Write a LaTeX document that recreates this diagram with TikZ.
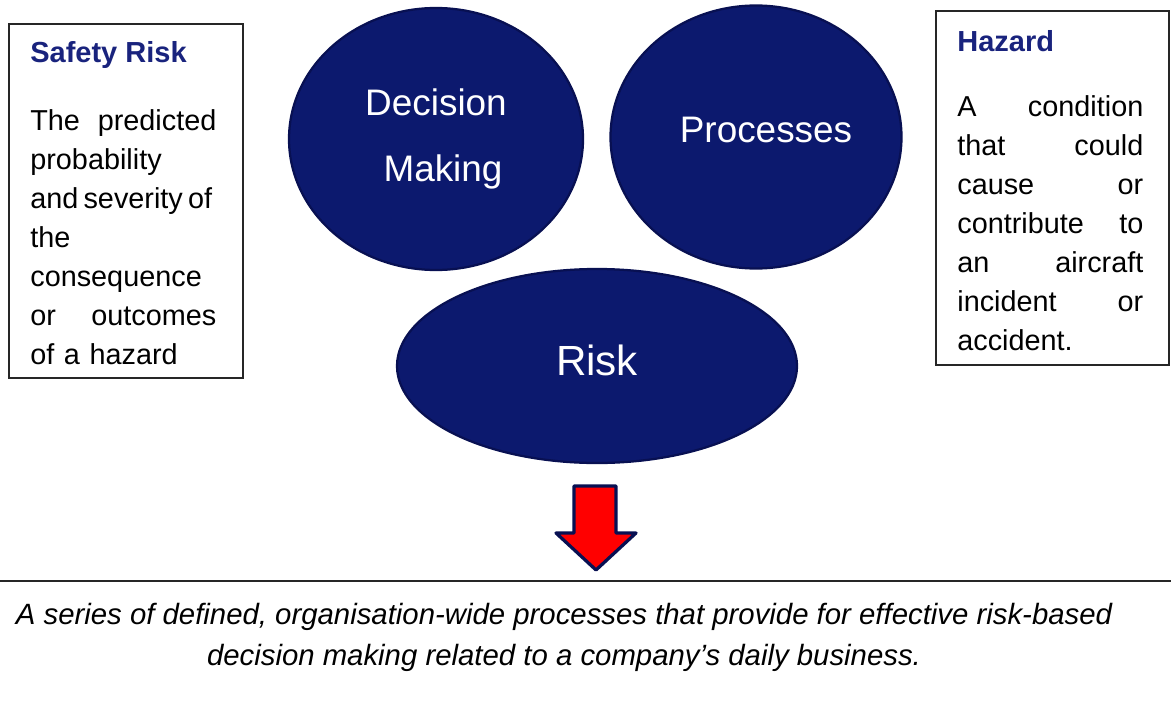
\documentclass[tikz,border=0pt]{standalone}
\usepackage{fontspec}
\setmainfont{Liberation Sans}
\usetikzlibrary{shapes.geometric}
\definecolor{navyfill}{RGB}{12,25,110}
\definecolor{navyline}{RGB}{8,16,82}
\definecolor{headblue}{RGB}{25,35,125}
\newcommand{\bodyfont}{\fontsize{16.4}{22.2}\selectfont}

\begin{document}
\begin{tikzpicture}[x=0.2mm,y=-0.2mm,
    infobox/.style={draw=black!85,line width=0.35mm},
    boxhead/.style={anchor=base west,inner sep=0pt,text=headblue,font=\fontsize{16.5}{19}\selectfont\bfseries},
    boxbody/.style={anchor=base west,inner sep=0pt,text width=37.2mm,align=left,font=\bodyfont},
    bubble/.style={ellipse,draw=navyline,line width=0.45mm,fill=navyfill,text=white,inner sep=0pt,align=center}]
  \useasboundingbox (0,0) rectangle (1171,701);

  \draw[infobox] (9,24) rectangle (243,378);
  \node[boxhead] (srhead) at (30,63) {Safety Risk};
  \node[boxbody] (srbody) at (30,130) {The\hfill predicted\\probability\\\mbox{and\hspace{0.18em}severity\hspace{0.18em}of}\\the\\consequence\\or\hfill outcomes\\of a hazard};

  \draw[infobox] (936,11) rectangle (1169,365);
  \node[boxhead] (hzhead) at (957,52) {Hazard};
  \node[boxbody] (hzbody) at (957,116) {A\hfill condition\\that\hfill could\\cause\hfill or\\contribute\hfill to\\an\hfill aircraft\\incident\hfill or\\accident.};

  \node[bubble,minimum width=58.8mm,minimum height=52.4mm,font=\fontsize{21}{38}\selectfont] (decision) at (436,139) {Decision\\\hspace*{2.8mm}Making};
  \node[bubble,minimum width=58.2mm,minimum height=52.6mm,text depth=2.8mm,font=\fontsize{21}{25}\selectfont] (process) at (756,137) {\hspace*{4mm}Processes};
  \node[bubble,minimum width=80mm,minimum height=38.8mm,text depth=2.4mm,font=\fontsize{24}{28}\selectfont] (risk) at (597,366) {Risk};

  \draw[fill=red,draw=navyline,line width=0.65mm,line join=round] (574,486) -- (616,486) -- (616,533) -- (636,533) -- (596,570) -- (556,533) -- (574,533) -- cycle;

  \draw[line width=0.4mm,black!85] (0,581) -- (1171,581);
  \node[font=\fontsize{16.7}{23}\selectfont\itshape,align=center,anchor=base,inner sep=0pt] (summary) at (564,665) {A series of defined, organisation-wide processes that provide for effective risk-based\\decision making related to a company’s daily business.};
\end{tikzpicture}
\end{document}
